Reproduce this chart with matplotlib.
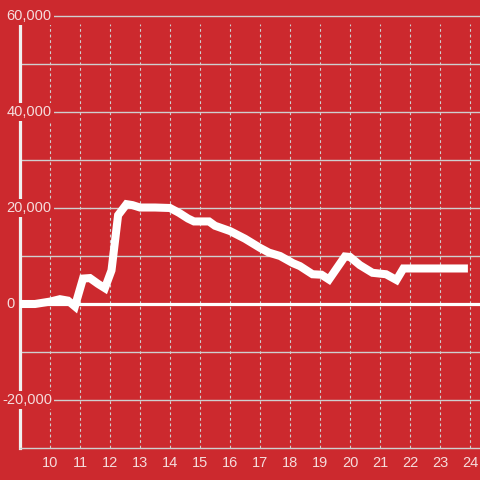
import matplotlib
matplotlib.use("Agg")
import matplotlib.pyplot as plt
import matplotlib.transforms as mtransforms

# data (hour of day, value)
hours = [9.0, 9.5, 10.0, 10.33, 10.6, 10.83, 11.1, 11.33, 11.6, 11.83, 12.05, 12.27,
         12.55, 12.75, 13.0, 13.5, 14.0, 14.3, 14.6, 14.8, 15.3, 15.5, 16.0, 16.5,
         17.0, 17.3, 17.67, 18.1, 18.33, 18.75, 19.05, 19.3, 19.83, 20.0, 20.33,
         20.75, 21.2, 21.55, 21.78, 23.93]
values = [0, 0, 500, 1000, 700, -500, 5300, 5400, 4200, 3300, 7000, 18500,
          20800, 20600, 20100, 20100, 20000, 19000, 17800, 17200, 17200, 16300, 15200, 13600,
          11700, 10700, 10000, 8500, 7900, 6200, 6100, 5100, 9900, 9800, 8100,
          6500, 6200, 5000, 7400, 7400]
x_ticks = list(range(10, 25))
y_ticks = [-20000, 0, 20000, 40000, 60000]
y_grid = [-20000, -10000, 10000, 20000, 30000, 40000, 50000, 60000]

BG = "#CC292E"
TXT = "#F5DCDC"
GRID = "#CFCFCF"

plt.rcParams['font.family'] = ['Liberation Sans', 'DejaVu Sans']

fig = plt.figure(figsize=(4.8, 4.8), dpi=100, facecolor=BG)
ax = fig.add_axes([20/480, 32/480, 460/480, 424/480], facecolor=BG)
ax.set_xlim(9, 24 + 1/3)
ax.set_ylim(-30000, 60000 - 8/96*20000)

for v in y_grid:
    ax.axhline(v, color=GRID, lw=1.0, zorder=1, clip_on=False)
for t in x_ticks:
    ax.axvline(t, color=GRID, lw=0.8, linestyle=(0, (2.5, 2.5)), zorder=1)
ax.axhline(0, color="white", lw=2.3, zorder=2)

ax.plot(hours, values, color="white", lw=5.8, solid_joinstyle='miter',
        solid_capstyle='butt', zorder=3)

for s in ["top", "right"]:
    ax.spines[s].set_visible(False)
ax.spines["left"].set_color("#F0F0F0")
ax.spines["left"].set_linewidth(2.3)
ax.spines["bottom"].set_color(GRID)
ax.spines["bottom"].set_linewidth(1.0)

ax.set_xticks(x_ticks)
ax.set_xticklabels([str(t) for t in x_ticks])
ax.set_yticks([])
ax.tick_params(axis='x', length=0, colors=TXT, labelsize=10.5, pad=6)

trans = mtransforms.blended_transform_factory(fig.transFigure, ax.transData)
for v in y_ticks:
    xpos = 2/480 if v < 0 else 6.5/480
    fig.text(xpos, v, f"{v:,}", transform=trans, ha='left', va='center',
             color=TXT, fontsize=10.5, zorder=10,
             bbox=dict(facecolor=BG, edgecolor='none', pad=1.5))

fig.savefig("out.png", dpi=100, facecolor=BG)
